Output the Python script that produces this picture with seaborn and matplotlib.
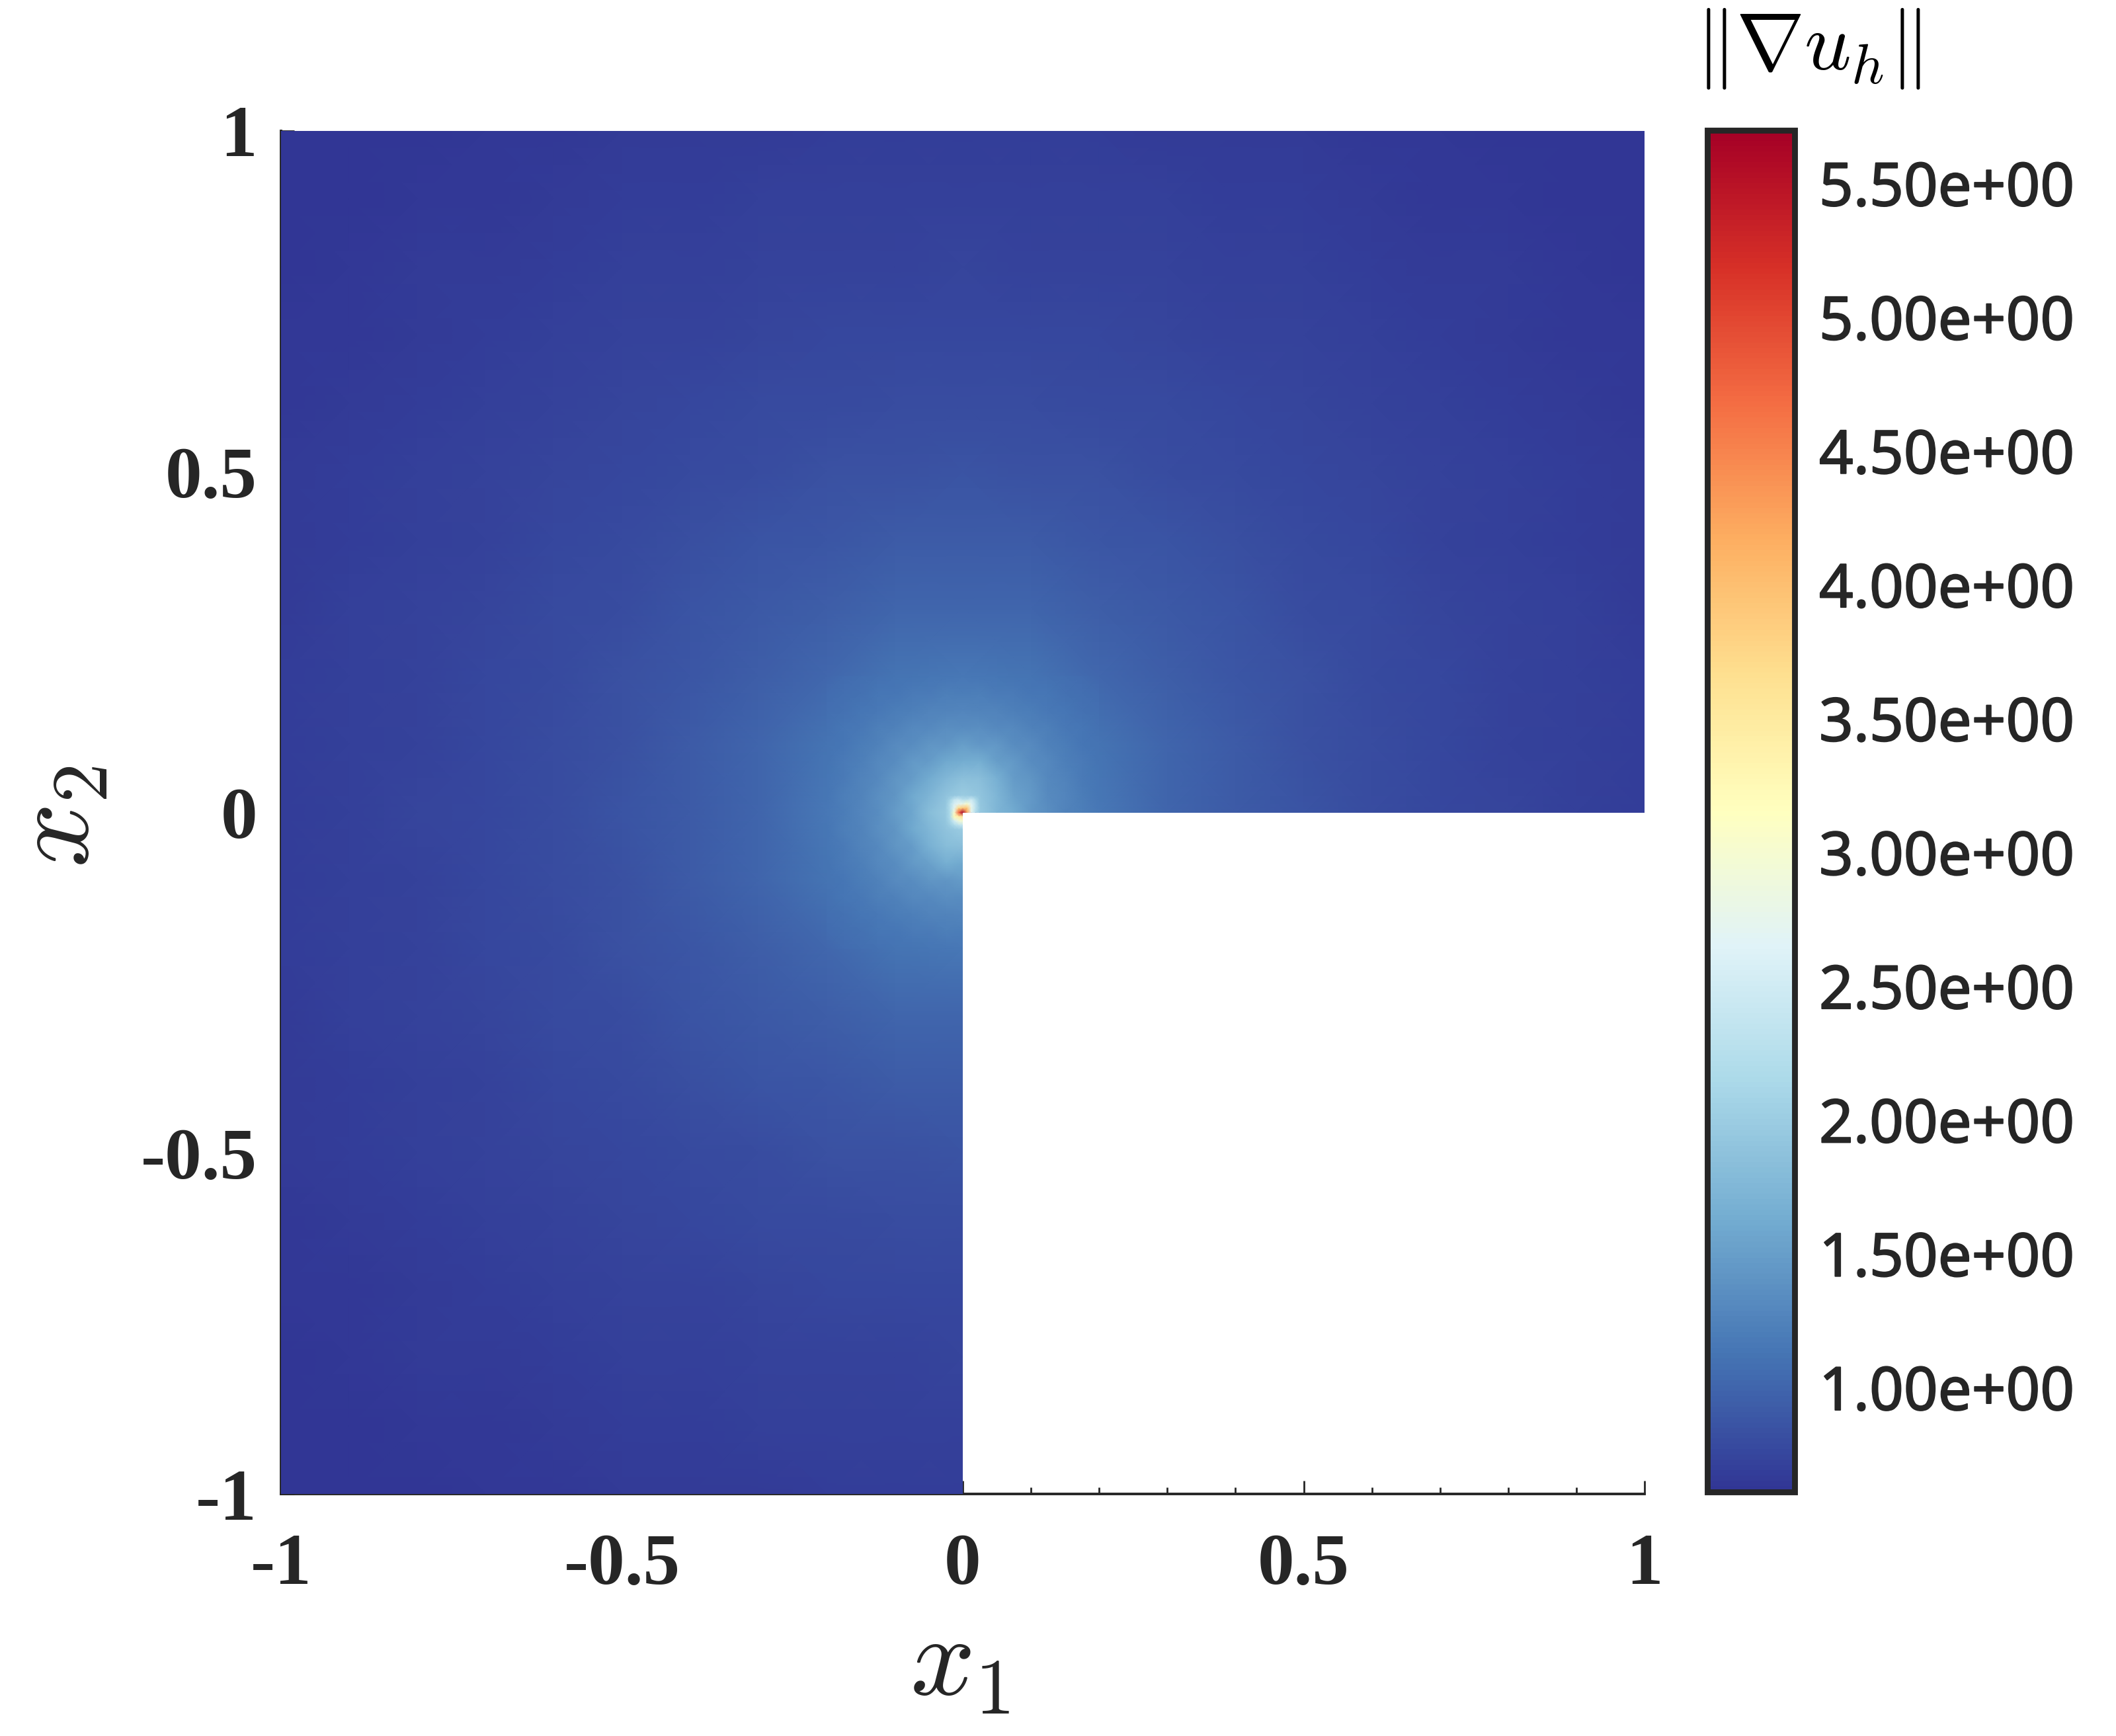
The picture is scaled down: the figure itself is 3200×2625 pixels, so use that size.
import matplotlib
matplotlib.use("Agg")
import matplotlib.pyplot as plt
import matplotlib.patheffects as pe
from matplotlib.path import Path
from matplotlib.transforms import ScaledTranslation
import numpy as np
import seaborn as sns

nan = float("nan")

# colorbar range and ticks
VMIN = 0.5985
VMAX = 5.687
cbar_ticks = [1.0, 1.5, 2.0, 2.5, 3.0, 3.5, 4.0, 4.5, 5.0, 5.5]
cbar_labels = ["1.00e+00", "1.50e+00", "2.00e+00", "2.50e+00", "3.00e+00",
               "3.50e+00", "4.00e+00", "4.50e+00", "5.00e+00", "5.50e+00"]
axis_ticks = [-1, -0.5, 0, 0.5, 1]
axis_labels = ["-1", "-0.5", "0", "0.5", "1"]

# |grad u_h|, rows from x2 = 1 down to x2 = -1, step 0.1
coarse = [
    [.594,.604,.614,.623,.633,.642,.650,.657,.662,.666,.667,.666,.662,.657,.650,.642,.633,.623,.614,.604,.594],
    [.604,.616,.627,.638,.649,.660,.670,.679,.685,.689,.690,.689,.685,.679,.670,.660,.649,.638,.627,.616,.604],
    [.614,.627,.640,.652,.667,.680,.692,.703,.711,.717,.718,.717,.711,.703,.692,.680,.667,.652,.640,.627,.614],
    [.623,.638,.652,.669,.685,.702,.717,.730,.741,.748,.751,.748,.741,.730,.717,.702,.685,.669,.652,.638,.623],
    [.633,.649,.667,.685,.704,.723,.743,.762,.775,.785,.790,.785,.775,.762,.743,.723,.704,.685,.667,.649,.633],
    [.642,.660,.680,.702,.723,.748,.772,.797,.820,.835,.840,.835,.820,.797,.772,.748,.723,.702,.680,.660,.642],
    [.650,.670,.692,.717,.743,.772,.805,.840,.873,.897,.905,.897,.873,.840,.805,.772,.743,.717,.692,.670,.650],
    [.657,.679,.703,.730,.762,.797,.840,.888,.936,.977,.996,.977,.936,.888,.840,.797,.762,.730,.703,.679,.657],
    [.662,.685,.711,.741,.775,.820,.873,.936,1.015,1.10,1.14,1.10,1.015,.936,.873,.820,.775,.741,.711,.685,.662],
    [.666,.689,.717,.748,.785,.835,.897,.977,1.10,1.28,1.436,1.28,1.10,.977,.897,.835,.785,.748,.717,.689,.666],
    [.667,.690,.718,.751,.790,.840,.905,.996,1.14,1.436,1.90,1.436,1.14,.996,.905,.840,.790,.751,.718,.690,.667],
    [.666,.689,.717,.748,.785,.835,.897,.977,1.10,1.28,1.436,nan,nan,nan,nan,nan,nan,nan,nan,nan,nan],
    [.662,.685,.711,.741,.775,.820,.873,.936,1.015,1.10,1.14,nan,nan,nan,nan,nan,nan,nan,nan,nan,nan],
    [.657,.679,.703,.730,.762,.797,.840,.888,.936,.977,.996,nan,nan,nan,nan,nan,nan,nan,nan,nan,nan],
    [.650,.670,.692,.717,.743,.772,.805,.840,.873,.897,.905,nan,nan,nan,nan,nan,nan,nan,nan,nan,nan],
    [.642,.660,.680,.702,.723,.748,.772,.797,.820,.835,.840,nan,nan,nan,nan,nan,nan,nan,nan,nan,nan],
    [.633,.649,.667,.685,.704,.723,.743,.762,.775,.785,.790,nan,nan,nan,nan,nan,nan,nan,nan,nan,nan],
    [.623,.638,.652,.669,.685,.702,.717,.730,.741,.748,.751,nan,nan,nan,nan,nan,nan,nan,nan,nan,nan],
    [.614,.627,.640,.652,.667,.680,.692,.703,.711,.717,.718,nan,nan,nan,nan,nan,nan,nan,nan,nan,nan],
    [.604,.616,.627,.638,.649,.660,.670,.679,.685,.689,.690,nan,nan,nan,nan,nan,nan,nan,nan,nan,nan],
    [.594,.604,.614,.623,.633,.642,.650,.657,.662,.666,.667,nan,nan,nan,nan,nan,nan,nan,nan,nan,nan],
]

# around the corner, x1 and x2 in [-0.2, 0.2], step 0.025
middle = [
    [1.015,1.036,1.058,1.079,1.10,1.11,1.12,1.13,1.14,1.13,1.12,1.11,1.10,1.079,1.058,1.036,1.015],
    [1.036,1.07,1.08,1.125,1.13,1.17,1.17,1.20,1.18,1.20,1.17,1.17,1.13,1.125,1.08,1.07,1.036],
    [1.058,1.08,1.13,1.14,1.19,1.20,1.25,1.24,1.27,1.24,1.25,1.20,1.19,1.14,1.13,1.08,1.058],
    [1.079,1.125,1.14,1.20,1.22,1.29,1.28,1.34,1.32,1.35,1.29,1.29,1.22,1.20,1.14,1.125,1.079],
    [1.10,1.13,1.19,1.22,1.30,1.32,1.41,1.40,1.49,1.43,1.42,1.32,1.30,1.22,1.19,1.13,1.10],
    [1.11,1.17,1.20,1.29,1.32,1.44,1.47,1.59,1.62,1.65,1.48,1.44,1.32,1.29,1.20,1.17,1.11],
    [1.12,1.17,1.25,1.28,1.41,1.47,1.60,1.75,1.85,1.82,1.66,1.47,1.41,1.28,1.25,1.17,1.12],
    [1.13,1.20,1.24,1.34,1.40,1.58,1.70,1.88,1.98,1.90,1.72,1.53,1.44,1.31,1.26,1.18,1.13],
    [1.14,1.18,1.27,1.32,1.46,1.56,1.80,1.95,2.25,1.95,1.72,1.60,1.42,1.35,1.24,1.20,1.14],
    [1.13,1.20,1.24,1.34,1.40,1.58,1.72,1.88,1.98,nan,nan,nan,nan,nan,nan,nan,nan],
    [1.12,1.17,1.25,1.28,1.41,1.47,1.66,1.80,1.82,nan,nan,nan,nan,nan,nan,nan,nan],
    [1.11,1.17,1.20,1.29,1.32,1.44,1.50,1.64,1.58,nan,nan,nan,nan,nan,nan,nan,nan],
    [1.10,1.13,1.19,1.22,1.30,1.32,1.41,1.40,1.46,nan,nan,nan,nan,nan,nan,nan,nan],
    [1.079,1.125,1.14,1.20,1.22,1.29,1.28,1.34,1.32,nan,nan,nan,nan,nan,nan,nan,nan],
    [1.058,1.08,1.13,1.14,1.19,1.20,1.25,1.24,1.27,nan,nan,nan,nan,nan,nan,nan,nan],
    [1.036,1.07,1.08,1.125,1.13,1.17,1.17,1.20,1.18,nan,nan,nan,nan,nan,nan,nan,nan],
    [1.015,1.036,1.058,1.079,1.10,1.11,1.12,1.13,1.14,nan,nan,nan,nan,nan,nan,nan,nan],
]

# the singular point itself, x1 and x2 in [-0.025, 0.025], step 0.00625
core = [
    [1.88,1.90,1.93,1.96,1.98,1.96,1.94,1.92,1.90],
    [1.90,2.05,2.35,2.45,2.25,2.25,2.45,2.15,1.91],
    [1.92,2.20,2.55,2.70,2.75,3.00,2.65,2.30,1.92],
    [1.94,2.20,2.70,3.70,3.90,3.90,2.75,2.30,1.94],
    [1.95,2.15,3.00,4.70,5.69,4.20,2.70,2.20,1.95],
    [1.94,2.15,3.20,3.40,3.60,nan,nan,nan,nan],
    [1.92,2.10,2.50,2.85,3.00,nan,nan,nan,nan],
    [1.90,2.00,2.15,2.30,2.35,nan,nan,nan,nan],
    [1.88,1.90,1.93,1.96,1.98,nan,nan,nan,nan],
]

sns.set_theme(style="ticks")
plt.rcParams["mathtext.fontset"] = "cm"
plt.rcParams["font.family"] = ["Liberation Serif", "DejaVu Sans"]

W, H = 3200, 2625
DARK = "#262626"
cmap = sns.color_palette("RdYlBu_r", as_cmap=True)

fig = plt.figure(figsize=(16, 13.125), dpi=200)
ax = fig.add_axes([425 / W, 1 - 2259 / H, 2062 / W, 2061 / H])
cax = fig.add_axes([2581.5 / W, 1 - 2255.5 / H, 132 / W, 2059 / H])


def l_shape():
    # the domain without the lower right quadrant
    verts = [(0, 20), (0, 0), (20, 0), (20, 10), (10, 10), (10, 20), (0, 20)]
    return Path(verts, closed=True)


def draw_table(table, target, **kws):
    # hole nodes get a filler value, the clip path hides them anyway
    data = np.nan_to_num(np.array(table), nan=VMIN)
    sns.heatmap(data, ax=target, cmap=cmap, vmin=VMIN, vmax=VMAX, shading="gouraud",
                xticklabels=False, yticklabels=False, **kws)
    n = data.shape[0] - 1
    target.set_xlim(0, n)
    target.set_ylim(n, 0)
    mesh = target.collections[0]
    mesh.set_zorder(3)
    mesh.set_clip_path(l_shape(), ax.transData)
    return mesh


mesh = draw_table(coarse, ax, cbar_ax=cax)

# finer tables sit on top of the coarse one
box = ax.get_position()
for table, half in [(middle, 0.2), (core, 0.025)]:
    left = box.x0 + box.width * (1 - half) / 2
    bottom = box.y0 + box.height * (1 - half) / 2
    inset = fig.add_axes([left, bottom, box.width * half, box.height * half])
    draw_table(table, inset, cbar=False)
    inset.axis("off")

ticks = [10 * (t + 1) for t in axis_ticks]
minor = [i for i in range(21) if i % 5 != 0]
ax.set_xticks(ticks)
ax.set_xticklabels(axis_labels)
ax.set_yticks(ticks)
ax.set_yticklabels(axis_labels[::-1], rotation=0)
ax.set_xticks(minor, minor=True)
ax.set_yticks(minor, minor=True)
ax.tick_params(which="major", direction="in", length=7.2, width=1.0, color=DARK)
ax.tick_params(which="minor", direction="in", length=3.6, width=1.0, color=DARK)
ax.tick_params(axis="x", which="major", pad=21.4, labelsize=40, labelcolor=DARK)
ax.tick_params(axis="y", which="major", pad=13, labelsize=40, labelcolor=DARK)
for lab in ax.get_xticklabels() + ax.get_yticklabels():
    lab.set_fontweight("bold")
for side in ["left", "bottom"]:
    ax.spines[side].set_visible(True)
    ax.spines[side].set_linewidth(1.4)
    ax.spines[side].set_color(DARK)

ax.set_xlabel(r"$x_1$", fontsize=62, color=DARK, labelpad=9, x=0.498)
ax.set_ylabel(r"$x_2$", fontsize=62, color=DARK, labelpad=15, y=0.497)

cb = mesh.colorbar
cb.outline.set_visible(True)
cb.outline.set_linewidth(3.2)
cb.outline.set_edgecolor(DARK)
cb.set_ticks(cbar_ticks)
cb.set_ticklabels(cbar_labels)
cax.tick_params(axis="y", which="major", direction="in", length=16.5, width=3.2, color=DARK,
                pad=13.5, labelsize=32.6, labelcolor=DARK)
cax.minorticks_off()
shift = ScaledTranslation(0, -4 / 200, fig.dpi_scale_trans)
for lab in cax.get_yticklabels():
    lab.set_family("Noto Sans")
    lab.set_path_effects([pe.withStroke(linewidth=0.7, foreground=DARK)])
    lab.set_transform(lab.get_transform() + shift)
cax.set_title(r"$\|\nabla u_h\|$", fontsize=44.5, color="black", pad=33, loc="left", x=-0.135)

fig.savefig("out.png", dpi=200)
